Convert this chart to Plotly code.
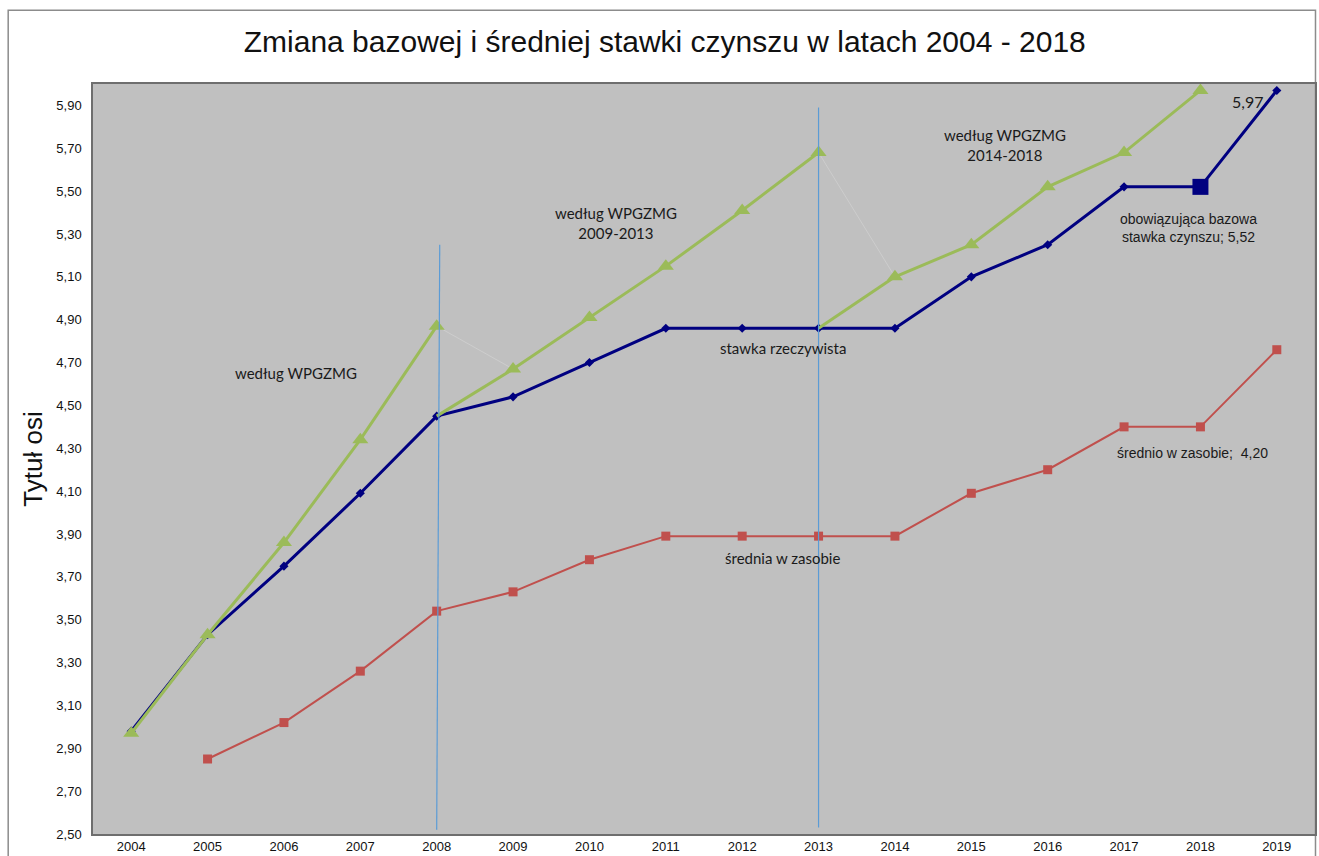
import plotly.graph_objects as go

years = [str(y) for y in range(2004, 2020)]
rzeczywista = [2.98, 3.43, 3.75, 4.09, 4.45, 4.54, 4.70, 4.86, 4.86, 4.86, 4.86, 5.10, 5.25, 5.52, 5.52, 5.97]
wg_wpgzmg = [2.97, 3.43, 3.86, 4.34, 4.87, 4.67, 4.91, 5.15, 5.41, 5.68, 5.10, 5.25, 5.52, 5.68, 5.97, None]
srednia = [None, 2.85, 3.02, 3.26, 3.54, 3.63, 3.78, 3.89, 3.89, 3.89, 3.89, 4.09, 4.20, 4.40, 4.40, 4.76]

GREEN = "#9BBB59"
NAVY = "#000080"
RED = "#C0504D"
VLINE = "#5B9BD5"

fig = go.Figure()

# faint connectors between plan periods
for a, b in [(4, 5), (9, 10)]:
    fig.add_trace(go.Scatter(x=[years[a], years[b]], y=[wg_wpgzmg[a], wg_wpgzmg[b]],
                             mode="lines", line=dict(color="#cdcdcd", width=1),
                             showlegend=False, hoverinfo="skip"))

# red average
fig.add_trace(go.Scatter(x=years, y=srednia, mode="lines+markers",
                         line=dict(color=RED, width=2),
                         marker=dict(symbol="square", size=9, color=RED),
                         showlegend=False))

# blue actual
fig.add_trace(go.Scatter(x=years, y=rzeczywista, mode="lines+markers",
                         line=dict(color=NAVY, width=3),
                         marker=dict(symbol="diamond", size=7, color=NAVY),
                         showlegend=False))

# green plan segments
segments = [(0, 4, None), (5, 9, 4), (10, 14, 9)]
for s, e, start in segments:
    xs = years[s:e + 1]
    ys = wg_wpgzmg[s:e + 1]
    if start is not None:
        fig.add_trace(go.Scatter(x=[years[start], years[s]], y=[rzeczywista[start], wg_wpgzmg[s]],
                                 mode="lines", line=dict(color=GREEN, width=3),
                                 showlegend=False, hoverinfo="skip"))
    fig.add_trace(go.Scatter(x=xs, y=ys, mode="lines+markers",
                             line=dict(color=GREEN, width=3),
                             marker=dict(symbol="triangle-up", size=14, color=GREEN),
                             showlegend=False))

# current base rate marker
fig.add_trace(go.Scatter(x=[years[14]], y=[rzeczywista[14]], mode="markers",
                         marker=dict(symbol="square", size=16, color=NAVY),
                         showlegend=False))

# vertical period lines (category index positions of 2008 and 2013)
i2008 = years.index("2008")
i2013 = years.index("2013")
fig.add_shape(type="line", xref="x", yref="y", x0=i2008, x1=i2008 + 0.04, y0=2.52, y1=5.25,
              line=dict(color=VLINE, width=1.2))
fig.add_shape(type="line", xref="x", yref="y", x0=i2013, x1=i2013, y0=2.53, y1=5.89,
              line=dict(color=VLINE, width=1.2))

# outer chart border
fig.add_shape(type="rect", xref="paper", yref="paper", x0=-0.0694, x1=1.0004, y0=-0.2, y1=1.0985,
              line=dict(color="#8c8c8c", width=1.5), layer="below")

calibri = "Lato, 'Open Sans', sans-serif"
arial = "'Liberation Sans', Arial, sans-serif"

annots = [
    dict(x=2.16, y=4.65, text="według WPGZMG", font=dict(family=calibri, size=15)),
    dict(x=6.35, y=5.35, text="według WPGZMG<br>2009-2013", font=dict(family=calibri, size=15)),
    dict(x=11.44, y=5.715, text="według WPGZMG<br>2014-2018", font=dict(family=calibri, size=15)),
    dict(x=8.53, y=4.766, text="stawka rzeczywista", font=dict(family=calibri, size=15)),
    dict(x=8.53, y=3.79, text="średnia w zasobie", font=dict(family=calibri, size=15)),
    dict(x=14.61, y=5.92, text="5,97", font=dict(family=calibri, size=16)),
    dict(x=13.85, y=5.328, text="obowiązująca bazowa<br>stawka czynszu; 5,52", font=dict(family=arial, size=14)),
    dict(x=13.9, y=4.276, text="średnio w zasobie;  4,20", font=dict(family=arial, size=14)),
]
for a in annots:
    fig.add_annotation(x=a["x"], y=a["y"], xref="x", yref="y", text=a["text"],
                       showarrow=False, font=dict(color="#1a1a1a", **a["font"]))

fig.update_layout(
    width=1319, height=856,
    margin=dict(l=93, r=2, t=84, b=21),
    paper_bgcolor="white",
    plot_bgcolor="#C0C0C0",
    separators=", ",
    title=dict(text="Zmiana bazowej i średniej stawki czynszu w latach 2004 - 2018",
               x=0.504, xref="container", y=0.952, yref="container", xanchor="center", yanchor="middle",
               font=dict(family=arial, size=30, color="#111")),
    showlegend=False,
)
fig.update_xaxes(type="category", categoryorder="array", categoryarray=years,
                 range=[-0.5, 15.5], showgrid=False, zeroline=False,
                 showline=True, mirror=True, linecolor="#6e6e6e", linewidth=1.5,
                 ticks="", tickfont=dict(family=arial, size=13, color="#111"))
fig.update_yaxes(range=[2.5, 6.0], tick0=2.5, dtick=0.2, tickformat=".2f",
                 showgrid=False, zeroline=False,
                 showline=True, mirror=True, linecolor="#6e6e6e", linewidth=1.5,
                 ticks="", ticklabelstandoff=7,
                 tickfont=dict(family=arial, size=13, color="#111"),
                 title=dict(text="Tytuł osi", font=dict(family=arial, size=26, color="#111"), standoff=6))

fig.write_html("out.html", config={"displayModeBar": False},
               post_script="document.body.style.margin='0';document.body.style.overflow='hidden';")
